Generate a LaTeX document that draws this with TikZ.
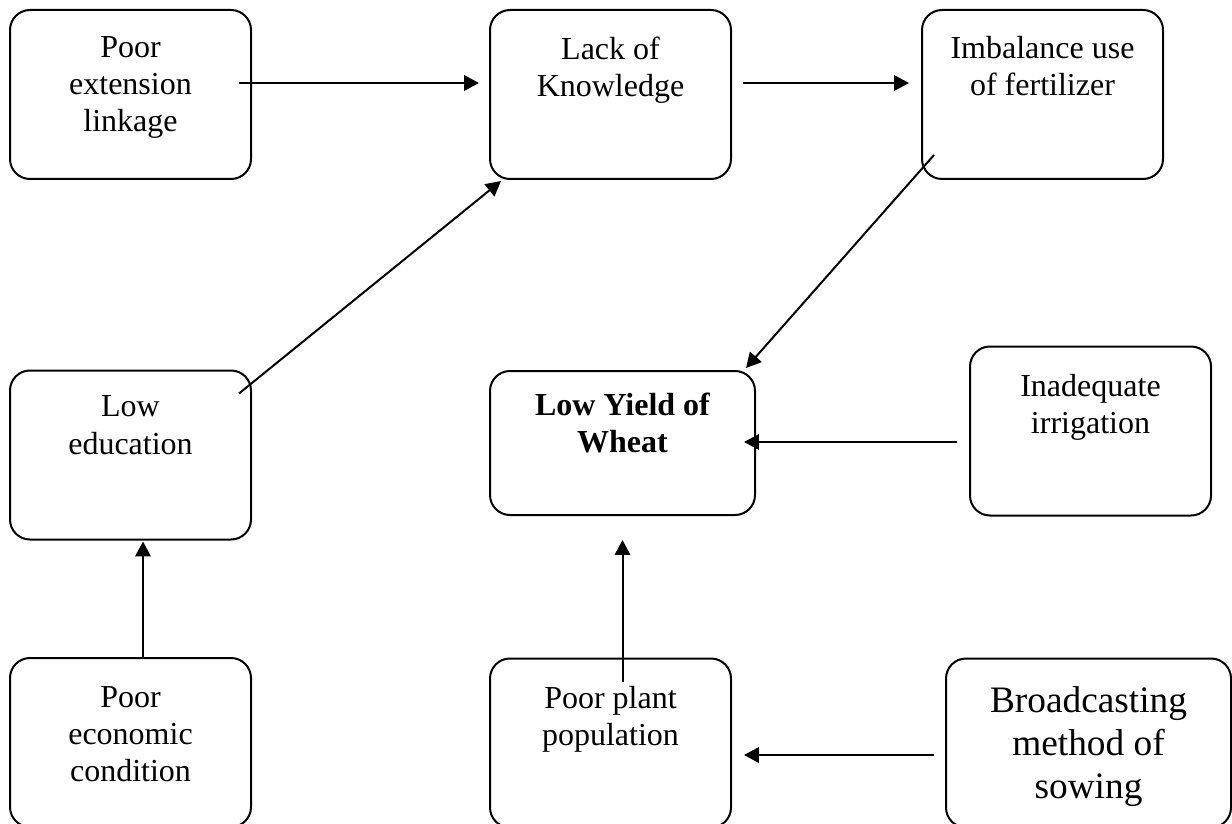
\documentclass[tikz,border=0pt]{standalone}
\usepackage{fontspec}
\setmainfont{Liberation Serif}
\usepackage{tikz}
\usetikzlibrary{arrows.meta, positioning}
\tikzset{>={Triangle[length=5.6pt, width=5.8pt]}}
\def\unit{0.375}

\begin{document}
\begin{tikzpicture}[x=\unit pt, y=-\unit pt,
    box/.style={draw, rounded corners=7.5pt, line width=2*\unit pt, inner sep=0pt,
                minimum width=241*\unit pt, minimum height=169*\unit pt},
    txt/.style={align=center, inner sep=0pt, font=\fontsize{12}{13.9}\selectfont},
    link/.style={->, line width=2*\unit pt}]

   \useasboundingbox (0,0) rectangle (1232,823);
   \clip (0,0) rectangle (1232,823);

   % boxes
   \node[box] (ext)   at (130.5, 94.5) {};
   \node[box] (know)  at (610.5, 94.5) {};
   \node[box] (fert)  at (1042.5, 94.5) {};
   \node[box] (edu)   at (130.5, 455) {};
   \node[box, minimum width=265*\unit pt, minimum height=144*\unit pt] (yield) at (622.5, 443) {};
   \node[box] (irri)  at (1090.5, 431) {};
   \node[box] (econ)  at (130.5, 742.5) {};
   \node[box] (plant) at (610.5, 743) {};
   \node[box, minimum width=285*\unit pt] (sow) at (1088.5, 743) {};

   % texts
   \node[txt, below=27*\unit pt of ext.north]   (extT)   {Poor\\extension\\linkage};
   \node[txt, below=27*\unit pt of know.north]  (knowT)  {Lack of\\Knowledge};
   \node[txt, below=27*\unit pt of fert.north]  (fertT)  {Imbalance use\\of fertilizer};
   \node[txt, below=26*\unit pt of edu.north]   (eduT)   {Low\\education};
   \node[txt, below=22*\unit pt of yield.north, font=\fontsize{12}{13.9}\selectfont\bfseries] (yieldT) {Low Yield of\\Wheat};
   \node[txt, below=28*\unit pt of irri.north]  (irriT)  {Inadequate\\irrigation};
   \node[txt, below=29*\unit pt of econ.north]  (econT)  {Poor\\economic\\condition};
   \node[txt, below=28*\unit pt of plant.north] (plantT) {Poor plant\\population};
   \node[txt, below=29*\unit pt of sow.north, font=\fontsize{14}{16.1}\selectfont] (sowT) {Broadcasting\\method of\\sowing};

   % links
   \draw[link] ([shift={(-13,-11.5)}]ext.east) -- ([shift={(-10,-11.5)}]know.west);
   \draw[link] ([shift={(11,-11.5)}]know.east) -- ([shift={(-12,-11.5)}]fert.west);
   \draw[link] ([shift={(13,-25)}]fert.south west) -- ([shift={(-10,-2)}]yield.north east);
   \draw[link] ([shift={(-13,24)}]edu.north east) -- ([shift={(12,1)}]know.south west);
   \draw[link] ([shift={(-12,11)}]irri.west) -- ([shift={(-12,-1)}]yield.east);
   \draw[link] ([shift={(12.5,0)}]econ.north) -- ([shift={(12.5,1)}]edu.south);
   \draw[link] ([shift={(12,24)}]plant.north) -- ([shift={(0,24)}]yield.south);
   \draw[link] ([shift={(-11,12)}]sow.west) -- ([shift={(12,12)}]plant.east);

\end{tikzpicture}
\end{document}
